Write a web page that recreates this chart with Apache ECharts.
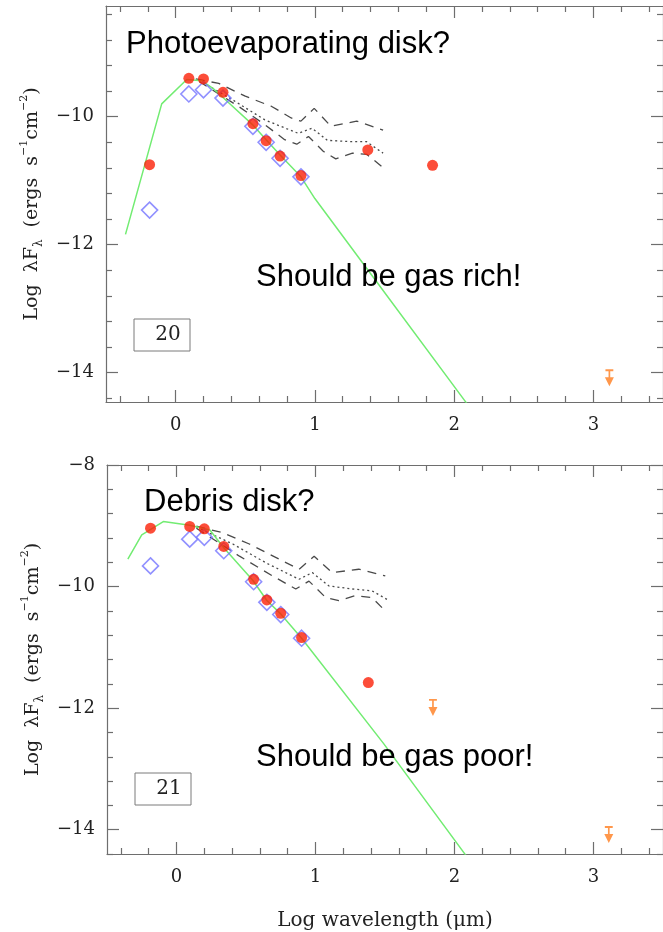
<!DOCTYPE html>
<html>
<head>
<meta charset="utf-8">
<script src="https://cdn.jsdelivr.net/npm/echarts@6/dist/echarts.min.js"></script>
<style>
html, body { margin: 0; padding: 0; background: #fff; }
#sed_chart { width: 663px; height: 932px; }
</style>
</head>
<body>
<div id="sed_chart"></div>
<script>
// photometric bands, log wavelength (um): R J H K 3.6 4.5 5.8 8.0 24 70
var bandX = [-0.187, 0.095, 0.20, 0.34, 0.555, 0.65, 0.75, 0.90, 1.38, 1.845];

// ---- star 20 ----
var obs20 = [-10.75, -9.40, -9.41, -9.62, -10.11, -10.375, -10.615, -10.92, -10.52, -10.76];
var dered20 = [-11.46, -9.645, -9.58, -9.71, -10.15, -10.40, -10.65, -10.94];
var limX20 = [3.115];
var limY20 = [-13.95];
var photX20 = [-0.36, -0.10, 0.08, 0.19, 0.27, 0.34, 0.55, 0.65, 0.75, 0.90, 1.0, 1.45, 2.08, 2.25];
var photY20 = [-11.84, -9.80, -9.42, -9.44, -9.56, -9.70, -10.12, -10.36, -10.60, -10.94, -11.28, -12.60, -14.45, -14.95];
var upX20 = [0.145, 0.31, 0.50, 0.69, 0.83, 0.90, 0.995, 1.115, 1.30, 1.49];
var upY20 = [-9.41, -9.48, -9.68, -9.84, -10.02, -10.07, -9.87, -10.15, -10.07, -10.21];
var medX20 = [0.168, 0.404, 0.641, 0.88, 0.98, 1.09, 1.26, 1.37, 1.49];
var medY20 = [-9.43, -9.73, -10.05, -10.26, -10.18, -10.37, -10.39, -10.39, -10.57];
var loX20 = [0.168, 0.452, 0.641, 0.783, 0.87, 0.954, 1.06, 1.15, 1.27, 1.374, 1.48];
var loY20 = [-9.45, -9.84, -10.125, -10.36, -10.43, -10.31, -10.54, -10.66, -10.57, -10.59, -10.78];

// ---- star 21 ----
var obs21 = [-9.04, -9.01, -9.05, -9.34, -9.88, -10.22, -10.44, -10.84, -11.58];
var dered21 = [-9.66, -9.22, -9.19, -9.41, -9.92, -10.26, -10.46, -10.85];
var limX21 = [1.845, 3.11];
var limY21 = [-11.85, -13.94];
var photX21 = [-0.35, -0.25, -0.095, 0.095, 0.24, 0.34, 0.55, 0.65, 0.75, 0.90, 1.489, 2.078, 2.25];
var photY21 = [-9.55, -9.15, -8.93, -8.99, -9.07, -9.36, -9.90, -10.23, -10.45, -10.85, -12.58, -14.41, -14.95];
var upX21 = [0.143, 0.333, 0.524, 0.739, 0.882, 0.99, 1.12, 1.311, 1.502];
var upY21 = [-9.005, -9.115, -9.30, -9.55, -9.715, -9.50, -9.77, -9.715, -9.825];
var medX21 = [0.143, 0.405, 0.644, 0.882, 0.977, 1.097, 1.263, 1.406, 1.514];
var medY21 = [-9.02, -9.30, -9.61, -9.88, -9.77, -9.99, -10.04, -10.07, -10.21];
var loX21 = [0.143, 0.453, 0.691, 0.858, 0.953, 1.073, 1.168, 1.287, 1.406, 1.502];
var loY21 = [-9.04, -9.50, -9.825, -10.04, -9.91, -10.18, -10.23, -10.15, -10.18, -10.40];

// ticks
var xMajor = [0, 1, 2, 3];
var xMinor = [-0.4, -0.2, 0.2, 0.4, 0.6, 0.8, 1.2, 1.4, 1.6, 1.8, 2.2, 2.4, 2.6, 2.8, 3.2, 3.4];
var yMajorTop = [-14, -12, -10];
var yMajorBot = [-14, -12, -10, -8];
var yMinor = [-14.4, -13.6, -13.2, -12.8, -12.4, -11.6, -11.2, -10.8, -10.4, -9.6, -9.2, -8.8, -8.4];

var FRAME = '#6e6e6e';
var SERIF = "'DejaVu Serif', serif";
var SANS = "'Liberation Sans', Arial, sans-serif";
var LIMIT_PATH = 'path://M1 0H15V3.5H1Z M6.5 3H9.5V17H6.5Z M0 15H16L8 32Z';

var myChart = echarts.init(document.getElementById('sed_chart'));
myChart.setOption(getOption());

function pairs(xs, ys) {
    var out = [];
    for (var i = 0; i < ys.length; i++) out.push([xs[i], ys[i]]);
    return out;
}

function minus(v) {
    return v < 0 ? '\u2212' + Math.abs(v) : String(v);
}

function tickAxis(g, pos, min, max, ticks, len, withLine) {
    return {
        type: 'value', gridIndex: g, position: pos, min: min, max: max,
        axisLine: { show: withLine, onZero: false, lineStyle: { color: FRAME, width: 1.2 } },
        axisTick: { show: true, inside: true, length: len, customValues: ticks,
                    lineStyle: { color: FRAME, width: 1.2 } },
        axisLabel: { show: false },
        splitLine: { show: false }
    };
}

function getXAxes(g, withName) {
    var main = tickAxis(g, 'bottom', -0.5, 3.5, xMajor, 12, true);
    main.axisLabel = { show: true, customValues: xMajor, margin: 14, fontFamily: SERIF,
                       fontSize: 18, color: '#222', formatter: minus };
    if (withName) {
        main.name = 'Log wavelength (\u03bcm)';
        main.nameLocation = 'middle';
        main.nameGap = 57;
        main.nameTextStyle = { fontFamily: SERIF, fontSize: 20, color: '#222' };
    }
    return [
        main,
        tickAxis(g, 'bottom', -0.5, 3.5, xMinor, 6, false),
        tickAxis(g, 'top', -0.5, 3.5, xMajor, 12, true),
        tickAxis(g, 'top', -0.5, 3.5, xMinor, 6, false)
    ];
}

function getYAxes(g, min, max, major) {
    var main = tickAxis(g, 'left', min, max, major, 12, true);
    main.axisLabel = { show: true, customValues: major, margin: 12, fontFamily: SERIF,
                       fontSize: 18, color: '#222', formatter: minus };
    main.name = '{t|Log  \u03bbF}{s|\u03bb}{t|  (ergs  s}{p|\u22121}{t|cm}{p|\u22122}{t|)}';
    main.nameLocation = 'middle';
    main.nameRotate = 90;
    main.nameGap = 60;
    main.nameTextStyle = {
        rich: {
            t: { fontFamily: SERIF, fontSize: 19, lineHeight: 26, color: '#222' },
            s: { fontFamily: SERIF, fontSize: 12, lineHeight: 12, color: '#222', verticalAlign: 'bottom' },
            p: { fontFamily: SERIF, fontSize: 11, lineHeight: 11, color: '#222', verticalAlign: 'top' }
        }
    };
    return [
        main,
        tickAxis(g, 'left', min, max, yMinor, 6, false),
        tickAxis(g, 'right', min, max, major, 12, true),
        tickAxis(g, 'right', min, max, yMinor, 6, false)
    ];
}

function getSeries(g, d) {
    var xi = g * 4, yi = g * 4;
    function grayLine(xs, ys, type) {
        return {
            type: 'line', xAxisIndex: xi, yAxisIndex: yi, data: pairs(xs, ys),
            showSymbol: false, symbol: 'none', z: 2,
            lineStyle: { color: '#4a4a4a', width: 1.3, type: type }
        };
    }
    return [
        {
            type: 'line', xAxisIndex: xi, yAxisIndex: yi, data: pairs(d.photX, d.photY),
            showSymbol: false, symbol: 'none', clip: true, z: 3,
            lineStyle: { color: '#72ec72', width: 1.5 }
        },
        grayLine(d.upX, d.upY, [9, 7]),
        grayLine(d.medX, d.medY, [2, 3]),
        grayLine(d.loX, d.loY, [9, 7]),
        {
            type: 'scatter', xAxisIndex: xi, yAxisIndex: yi, data: pairs(bandX, d.dered),
            symbol: 'diamond', symbolSize: 16, z: 4,
            itemStyle: { color: 'rgba(0,0,0,0)', borderColor: '#7474ff', borderWidth: 1.6 }
        },
        {
            type: 'scatter', xAxisIndex: xi, yAxisIndex: yi, data: pairs(bandX, d.obs),
            symbol: 'circle', symbolSize: 11, z: 5,
            itemStyle: { color: '#fb2108' }
        },
        {
            type: 'scatter', xAxisIndex: xi, yAxisIndex: yi, data: pairs(d.limX, d.limY),
            symbol: LIMIT_PATH, symbolSize: [9, 17], symbolOffset: [0, 8.5], z: 5,
            itemStyle: { color: '#ff7d1e' }
        }
    ];
}

function boxLabel(x, y, txt) {
    return [
        { type: 'rect', shape: { x: x, y: y, width: 56, height: 32 },
          style: { fill: '#fff', stroke: '#7a7a7a', lineWidth: 1 }, z: 10 },
        { type: 'text', x: x + 34, y: y + 16,
          style: { text: txt, font: '20px ' + SERIF, fill: '#222', textAlign: 'center', textVerticalAlign: 'middle' }, z: 11 }
    ];
}

function note(x, y, txt) {
    return { type: 'text', x: x, y: y, z: 12,
             style: { text: txt, font: '31px ' + SANS, fill: '#000', textAlign: 'left', textVerticalAlign: 'middle' } };
}

function getOption() {
    var star20 = { obs: obs20, dered: dered20, limX: limX20, limY: limY20,
                   photX: photX20, photY: photY20, upX: upX20, upY: upY20,
                   medX: medX20, medY: medY20, loX: loX20, loY: loY20 };
    var star21 = { obs: obs21, dered: dered21, limX: limX21, limY: limY21,
                   photX: photX21, photY: photY21, upX: upX21, upY: upY21,
                   medX: medX21, medY: medY21, loX: loX21, loY: loY21 };
    var option = {
        animation: false,
        backgroundColor: '#fff',
        grid: [
            { left: 106, top: 6, width: 564, height: 396 },
            { left: 107, top: 465, width: 559, height: 390 }
        ],
        xAxis: getXAxes(0, false).concat(getXAxes(1, true)),
        yAxis: getYAxes(0, -14.46, -8.27, yMajorTop).concat(getYAxes(1, -14.4, -8, yMajorBot)),
        series: getSeries(0, star20).concat(getSeries(1, star21)),
        graphic: [
            note(126, 44, 'Photoevaporating disk?'),
            note(256, 277, 'Should be gas rich!'),
            note(144, 502, 'Debris disk?'),
            note(256, 757, 'Should be gas poor!')
        ].concat(boxLabel(134, 319, '20')).concat(boxLabel(135, 773, '21'))
    };
    return option;
}
</script>
</body>
</html>
